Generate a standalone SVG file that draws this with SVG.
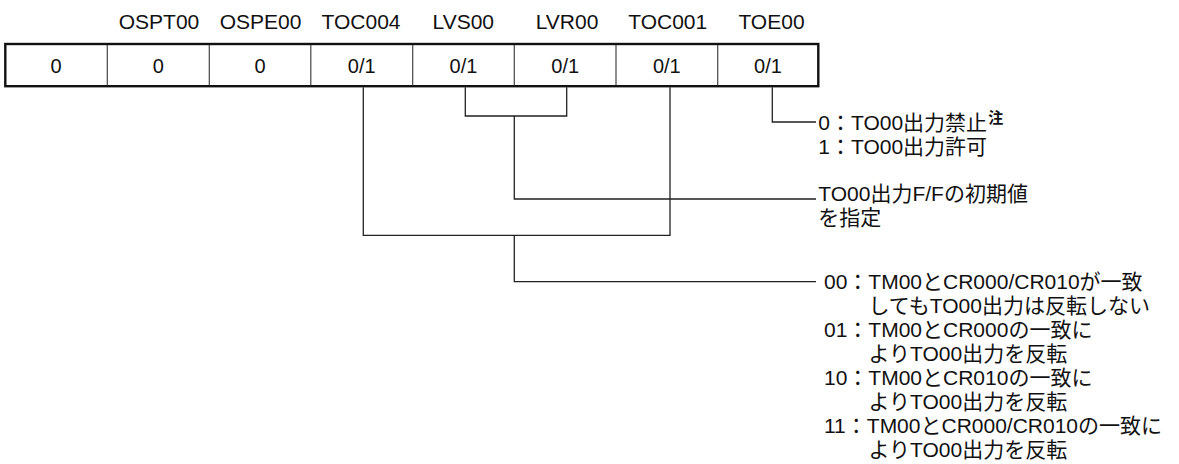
<svg xmlns="http://www.w3.org/2000/svg" width="1179" height="464" viewBox="0 0 1179 464">
<style>
text{font-family:"Liberation Sans","Noto Sans CJK JP",Arial,sans-serif;font-size:21px;fill:#111}
.c{text-anchor:middle}
.v{font-size:20px}
.div{stroke:#444;stroke-width:1.2}
.frame{fill:#fff;stroke:#111;stroke-width:2.4}
.w{fill:none;stroke:#222;stroke-width:1.3}
.sup{font-size:15px;font-weight:bold}
</style>
<rect width="1179" height="464" fill="#fff"/>
<g id="register">
<rect class="frame" x="5.3" y="44" width="813" height="42.2"/>
<g id="bit7"><text class="c v" x="56.1" y="72.5">0</text></g>
<line class="div" x1="107.3" y1="45" x2="107.3" y2="85.2"/>
<g id="bit6-OSPT00"><text class="c" x="159" y="28.8">OSPT00</text><text class="c v" x="158.3" y="72.5">0</text></g>
<line class="div" x1="209.3" y1="45" x2="209.3" y2="85.2"/>
<g id="bit5-OSPE00"><text class="c" x="260.5" y="28.8">OSPE00</text><text class="c v" x="260" y="72.5">0</text></g>
<line class="div" x1="310.8" y1="45" x2="310.8" y2="85.2"/>
<g id="bit4-TOC004"><text class="c" x="361" y="28.8">TOC004</text><text class="c v" x="361.7" y="72.5">0/1</text></g>
<line class="div" x1="412.7" y1="45" x2="412.7" y2="85.2"/>
<g id="bit3-LVS00"><text class="c" x="463.3" y="28.8">LVS00</text><text class="c v" x="463.5" y="72.5">0/1</text></g>
<line class="div" x1="514.3" y1="45" x2="514.3" y2="85.2"/>
<g id="bit2-LVR00"><text class="c" x="567" y="28.8">LVR00</text><text class="c v" x="565.2" y="72.5">0/1</text></g>
<line class="div" x1="616" y1="45" x2="616" y2="85.2"/>
<g id="bit1-TOC001"><text class="c" x="667.7" y="28.8">TOC001</text><text class="c v" x="666.8" y="72.5">0/1</text></g>
<line class="div" x1="717.7" y1="45" x2="717.7" y2="85.2"/>
<g id="bit0-TOE00"><text class="c" x="771.5" y="28.8">TOE00</text><text class="c v" x="768" y="72.5">0/1</text></g>
</g>
<g id="connectors">
<path class="w" d="M772.3 87.3V122H816"/>
<path class="w" d="M465.3 87.3V116H566.7V87.3"/>
<path class="w" d="M514.3 116V199H816"/>
<path class="w" d="M363.3 87.3V235.3H670V87.3"/>
<path class="w" d="M514.3 235.3V281.7H816"/>
</g>
<g id="desc-TOE00">
<text x="818.3" y="129.5">0：TO00出力禁止<tspan class="sup" dx="1" dy="-7">注</tspan></text>
<text x="818.3" y="153.5">1：TO00出力許可</text>
</g>
<g id="desc-LVS-LVR">
<text x="818.3" y="201">TO00出力F/Fの初期値</text>
<text x="818.3" y="225">を指定</text>
</g>
<g id="desc-TOC">
<text x="824" y="288.5">00：TM00とCR000/CR010が一致</text>
<text x="868.5" y="312.5">してもTO00出力は反転しない</text>
<text x="824" y="336.5">01：TM00とCR000の一致に</text>
<text x="868.5" y="360.5">よりTO00出力を反転</text>
<text x="824" y="384.5">10：TM00とCR010の一致に</text>
<text x="868.5" y="408.5">よりTO00出力を反転</text>
<text x="824" y="432.5">11：TM00とCR000/CR010の一致に</text>
<text x="868.5" y="456.5">よりTO00出力を反転</text>
</g>
</svg>
